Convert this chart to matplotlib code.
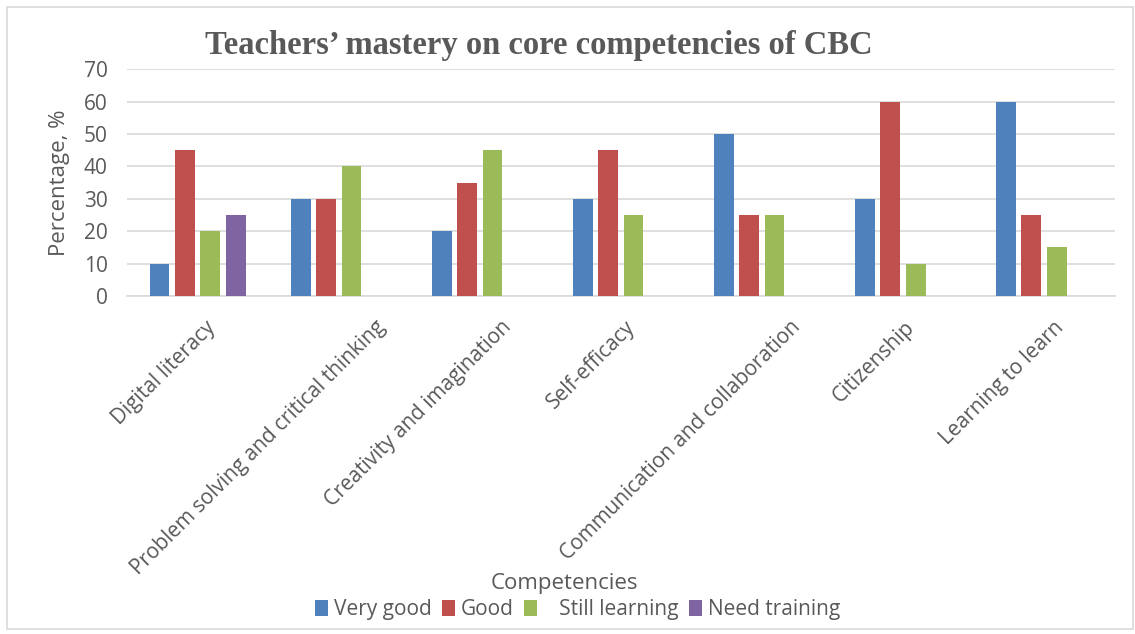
import numpy as np
import matplotlib
matplotlib.use('Agg')
import matplotlib.pyplot as plt
import matplotlib.transforms as mtransforms
from matplotlib.patches import Rectangle

competencias = ['Digital literacy', 'Problem solving and critical thinking',
                'Creativity and imagination', 'Self-efficacy',
                'Communication and collaboration', 'Citizenship', 'Learning to learn']
series = ['Very good', 'Good', '   Still learning', 'Need training']
very_good = [10, 30, 20, 30, 50, 30, 60]
good = [45, 30, 35, 45, 25, 60, 25]
still_learning = [20, 40, 45, 25, 25, 10, 15]
need_training = [25, 0, 0, 0, 0, 0, 0]
cores = ['#4F81BD', '#C0504D', '#9BBB59', '#8064A2']

cinza = '#595959'
plt.rcParams['font.family'] = ['Open Sans', 'DejaVu Sans']

fig = plt.figure(figsize=(11.35, 6.34), dpi=100)
ax = fig.add_axes([0.112, 0.533, 0.870, 0.358])

x = np.arange(len(competencias))
larg = 0.14
passo = 0.18
valores = [very_good, good, still_learning, need_training]
for i, (nome, vals, cor) in enumerate(zip(series, valores, cores)):
    ax.bar(x + (i - 1.5) * passo, vals, width=larg, color=cor, label=nome, zorder=3)

ax.set_xlim(-0.5, len(competencias) - 0.5)
ax.set_ylim(0, 70)
ax.set_yticks(range(0, 71, 10))
ax.yaxis.grid(True, color='#D9D9D9', lw=1.2, zorder=0)
for s in ['top', 'right', 'left']:
    ax.spines[s].set_visible(False)
ax.spines['bottom'].set_color('#D9D9D9')
ax.spines['bottom'].set_linewidth(1.2)
ax.tick_params(axis='both', length=0, colors=cinza)
ax.tick_params(axis='y', pad=14, labelsize=15)
ax.set_xticks(x)
ax.set_xticklabels(competencias, rotation=45, ha='right', rotation_mode='anchor',
                   fontsize=15, color=cinza)
ax.tick_params(axis='x', pad=15)
# Excel empurra os rótulos longos mais para a direita
for lab in ax.get_xticklabels():
    dx = (1.35 * len(lab.get_text()) - 14) / 100
    lab.set_transform(lab.get_transform() +
                      mtransforms.ScaledTranslation(dx, 0, fig.dpi_scale_trans))
ax.set_ylabel('Percentage, %', fontsize=16, color=cinza, labelpad=10)

fig.text(0.475, 0.929, 'Teachers\u2019 mastery on core competencies of CBC',
         ha='center', va='center', fontsize=23.5, fontweight='bold',
         family='Liberation Serif', color=cinza)
fig.text(0.497, 0.080, 'Competencies', ha='center', va='center', fontsize=16, color=cinza)

leg = fig.legend(loc='center', bbox_to_anchor=(0.509, 0.038), ncol=4, frameon=False,
                 fontsize=15, handlelength=0.6, handleheight=0.8, handletextpad=0.3,
                 columnspacing=0.5)
for t in leg.get_texts():
    t.set_color(cinza)

fig.patches.append(Rectangle((0.006, 0.008), 0.992, 0.981, transform=fig.transFigure,
                             fill=False, edgecolor='#D9D9D9', lw=1.2))

fig.savefig('out.png', dpi=100)
